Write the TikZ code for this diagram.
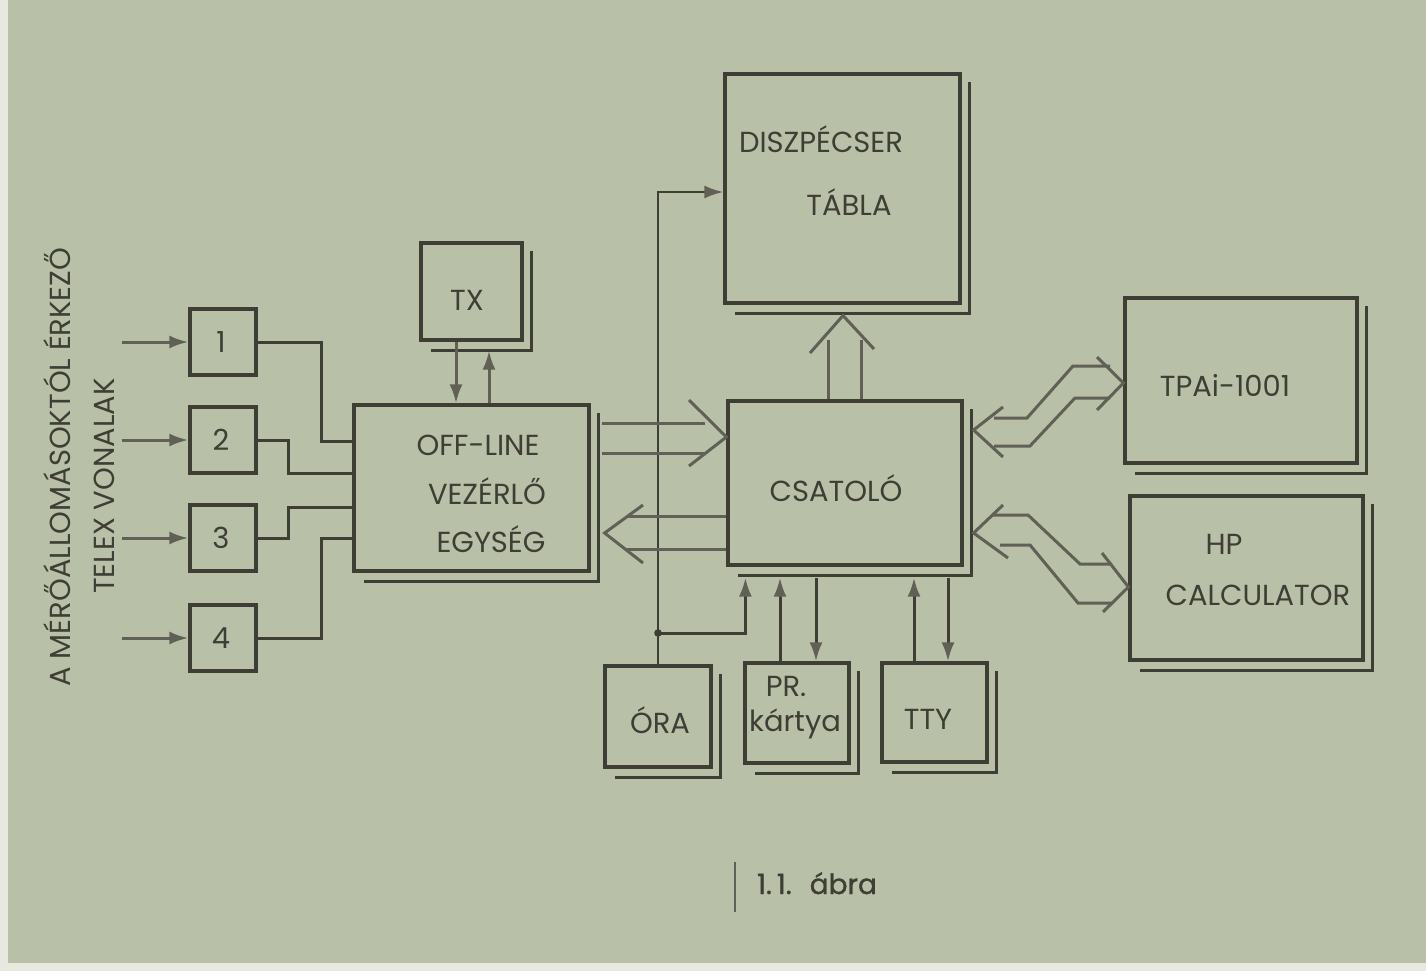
\documentclass[tikz,border=0pt]{standalone}
\usepackage{fontspec}
\setmainfont{Poppins}
\usetikzlibrary{arrows.meta,calc,positioning}

\definecolor{paper}{RGB}{185,192,168}
\definecolor{ink}{RGB}{62,62,52}
\definecolor{pale}{RGB}{96,96,86}

\tikzset{
  blk/.style={draw=ink,line width=3.2pt,inner sep=0pt},
  wire/.style={draw=ink,line width=3pt},
  bus/.style={draw=pale,line width=3pt,line join=miter},
  tip/.style={-{Latex[length=19pt,width=13pt,color=pale]}},
  lbl/.style={text=ink,inner sep=0pt,anchor=base,font=\fontsize{29}{29}\selectfont},
}
\newcommand{\shadowof}[1]{%
  \draw[wire] ($(#1.north east)+(8,10)$) -- ($(#1.south east)+(8,9)$) -- ($(#1.south west)+(12,9)$);}

\begin{document}
\begin{tikzpicture}[x=1pt,y=-1pt]
\fill[paper] (0,0) rectangle (1426,971);
\useasboundingbox (0,0) rectangle (1426,971);
\fill[paper!35!white] (0,0) rectangle (8,971);
\fill[paper!35!white] (0,963) rectangle (1426,971);

% bejovo telex vonalak
\foreach \i/\y in {1/342,2/440,3/538,4/638}{
  \node[blk,minimum width=66pt,minimum height=66pt] (b\i) at (223,\y) {};
  \node[lbl] (t\i) at (221,\y+10) {\i};
  \coordinate (in\i) at (122,\y);
  \draw[wire,draw=pale,tip] (in\i) -- (b\i.west);
}

% blokkok
\node[blk,minimum width=235pt,minimum height=166pt] (off) at (471.5,488) {};
\node[blk,minimum width=101pt,minimum height=97pt] (tx) at (471.5,291.5) {};
\node[blk,minimum width=235pt,minimum height=229pt] (dis) at (842.5,188.5) {};
\node[blk,minimum width=234pt,minimum height=164pt] (csa) at (845,483) {};
\node[blk,minimum width=232pt,minimum height=165pt] (tpa) at (1241,380.5) {};
\node[blk,minimum width=233pt,minimum height=164pt] (hp) at (1246.5,578) {};
\node[blk,minimum width=106pt,minimum height=101pt] (ora) at (658,716.5) {};
\node[blk,minimum width=104pt,minimum height=100pt] (pr) at (797,713) {};
\node[blk,minimum width=105pt,minimum height=99pt] (tty) at (934.5,712.5) {};
\foreach \n in {off,tx,dis,csa,tpa,hp,ora,pr,tty}{\shadowof{\n}}

% feliratok
\node[lbl] (toff) at (478,455) {OFF-LINE};
\node[lbl] (tvez) at (487,504) {VEZÉRLŐ};
\node[lbl] (tegy) at (491,552) {EGYSÉG};
\node[lbl] (ttx) at (467,310) {TX};
\node[lbl] (tdis) at (821,152) {DISZPÉCSER};
\node[lbl] (ttab) at (849,215) {TÁBLA};
\node[lbl] (tcsa) at (836,501) {CSATOLÓ};
\node[lbl] (ttpa) at (1225,396) {TPAi-1001};
\node[lbl] (thp) at (1224,554) {HP};
\node[lbl] (tcal) at (1258,605) {CALCULATOR};
\node[lbl] (tora) at (660,733) {ÓRA};
\node[lbl] (tpr) at (786,696) {PR.};
\node[lbl] (tkar) at (795,731) {kártya};
\node[lbl] (ttty) at (928,729) {TTY};
\node[lbl,rotate=90] (tmer) at (70,467) {A MÉRŐÁLLOMÁSOKTÓL ÉRKEZŐ};
\node[lbl,rotate=90] (ttel) at (114,486) {TELEX VONALAK};
\node[lbl,font=\fontsize{28}{28}\selectfont\addfontfeatures{FakeBold=1}] (tabra) at (817,894) {1.\hspace{5pt}1.\hspace{18pt}ábra};
\draw[pale,line width=1.2pt] (735,862) -- (735,912);

% vonalak a vezerlohoz
\draw[wire] (b1.east) -| (321,441) -- (off.west |- 0,441);
\draw[wire] (b2.east) -| (288,473) -- (off.west |- 0,473);
\draw[wire] (b3.east) -| (288,507) -- (off.west |- 0,507);
\draw[wire] (b4.east) -| (321,538) -- (off.west |- 0,538);

% TX
\draw[wire,draw=pale,tip] (tx.south -| 456,0) -- (off.north -| 456,0);
\draw[wire,draw=pale,tip] (off.north -| 489,0) -- ($(tx.south -| 489,0)+(0,9)$);

% ora
\coordinate (jn) at (ora.north |- 0,633);
\draw[wire,line width=2.4pt,tip] (ora.north) -- (jn) |- (dis.west |- 0,192);
\fill[ink] (jn) circle (3.8pt);
\draw[wire,tip] (jn) -| ($(csa.south west)+(19,11)$);

% also kapcsolatok
\coordinate (cb) at ($(csa.south)+(0,11)$);
\draw[wire,tip] (pr.north -| 780,0) -- (cb -| 780,0);
\draw[wire,tip] (cb -| 816,0) -- (pr.north -| 816,0);
\draw[wire,tip] (tty.north -| 914,0) -- (cb -| 914,0);
\draw[wire,tip] (cb -| 948,0) -- (tty.north -| 948,0);

% szeles nyilak
\draw[bus] ($(off.east |- 0,423)+(11,0)$) -- (705,423);
\draw[bus] ($(off.east |- 0,453)+(11,0)$) -- (705,453);
\draw[bus] (689,400) -- (csa.west |- 0,437) -- (689,466);

\draw[bus] (csa.west |- 0,516) -- (627,516);
\draw[bus] (csa.west |- 0,549) -- (627,549);
\draw[bus] (643,505) -- ($(off.east |- 0,533)+(14,0)$) -- (643,563);

\draw[bus] (csa.north -| 828,0) -- (828,340);
\draw[bus] (csa.north -| 861,0) -- (861,340);
\draw[bus] (810,353) -- ($(dis.south -| 843,0)+(0,11)$) -- (874,349);

\draw[bus] (1003,407) -- ($(csa.east |- 0,430)+(10,0)$) -- (1003,457);
\draw[bus] (994,418) -- (1027,418) -- (1073,366) -- (1110,366);
\draw[bus] (994,446) -- (1030,446) -- (1075,398) -- (1110,398);
\draw[bus] (1097,357) -- (tpa.west |- 0,383) -- (1097,410);

\draw[bus] (1003,505) -- ($(csa.east |- 0,533)+(10,0)$) -- (1008,558);
\draw[bus] (993,515) -- (1028,515) -- (1080,564) -- (1112,564);
\draw[bus] (1000,545) -- (1030,545) -- (1078,603) -- (1112,603);
\draw[bus] (1102,553) -- (hp.west |- 0,587) -- (1103,612);
\end{tikzpicture}
\end{document}
